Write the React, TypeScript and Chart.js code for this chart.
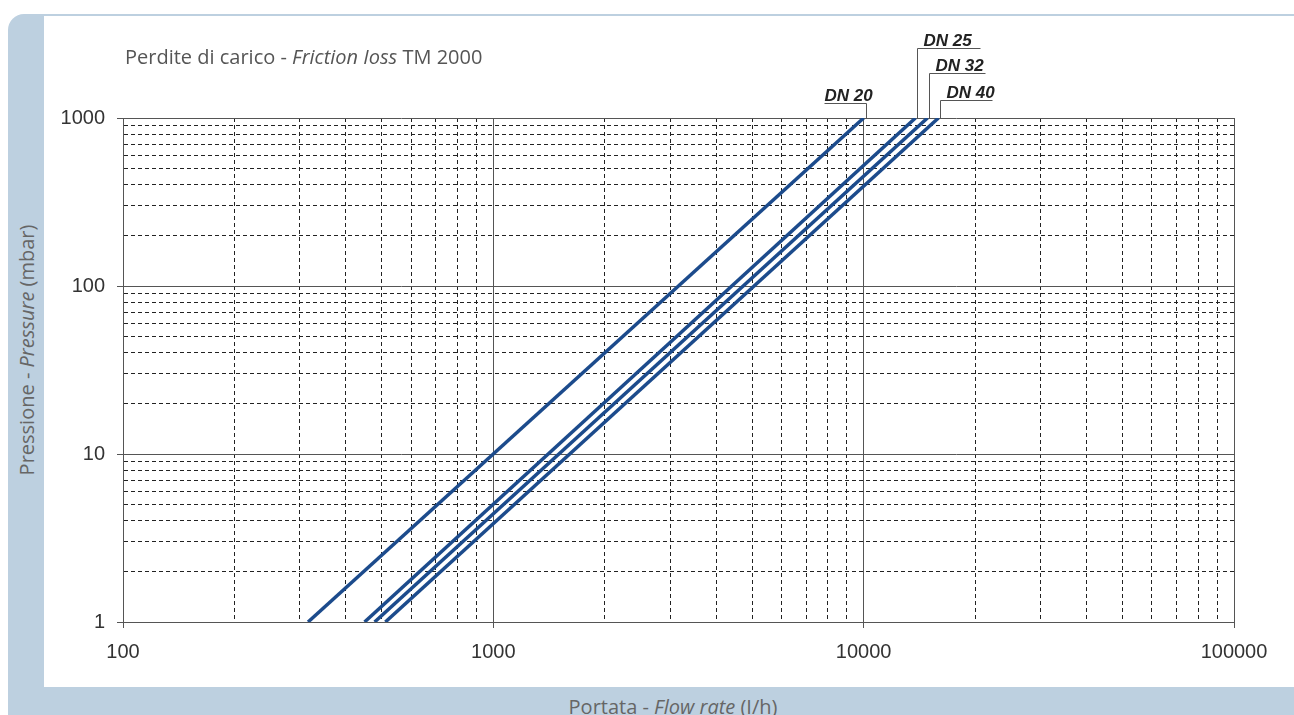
import React, { useEffect, useRef } from 'react';
import { Chart, registerables } from 'chart.js';

Chart.register(...registerables);

// ---- Data ----
const pressureEnds = [1, 1000]; // mbar
const dn20Flow = [316, 10000]; // l/h
const dn25Flow = [449, 13800];
const dn32Flow = [478, 14870];
const dn40Flow = [511, 15920];
const seriesNames = ['DN 20', 'DN 25', 'DN 32', 'DN 40'];

const xTickValues = [
  100, 200, 300, 400, 500, 600, 700, 800, 900,
  1000, 2000, 3000, 4000, 5000, 6000, 7000, 8000, 9000,
  10000, 20000, 30000, 40000, 50000, 60000, 70000, 80000, 90000,
  100000,
];
const xTickLabels = [100, 1000, 10000, 100000];
const yTickValues = [
  1, 2, 3, 4, 5, 6, 7, 8, 9,
  10, 20, 30, 40, 50, 60, 70, 80, 90,
  100, 200, 300, 400, 500, 600, 700, 800, 900,
  1000,
];
const yTickLabels = [1, 10, 100, 1000];

// ---- Styles ----
const LINE_COLOR = '#1c4b8c';
const FRAME_BLUE = '#bdd0e0';
const labelLayout = [
  { rise: 15, side: 'left', len: 42 },
  { rise: 70, side: 'right', len: 63 },
  { rise: 45, side: 'right', len: 56 },
  { rise: 18, side: 'right', len: 52 },
];

const flows = [dn20Flow, dn25Flow, dn32Flow, dn40Flow];

const dnLabelPlugin = {
  id: 'dnLabels',
  afterDatasetsDraw(chart: any) {
    const { ctx, chartArea } = chart;
    ctx.save();
    chart.data.datasets.forEach((ds: any, i: number) => {
      const meta = chart.getDatasetMeta(i);
      const pt = meta.data[meta.data.length - 1];
      if (!pt) return;
      const lay = labelLayout[i];
      const lx = Math.round(pt.x + 2) + 0.5;
      const top = chartArea.top;
      const uy = Math.round(top - lay.rise) + 0.5;
      ctx.strokeStyle = '#555';
      ctx.lineWidth = 1;
      ctx.beginPath();
      ctx.moveTo(lx, top);
      ctx.lineTo(lx, uy);
      if (lay.side === 'left') {
        ctx.lineTo(lx - lay.len, uy);
      } else {
        ctx.lineTo(lx + lay.len, uy);
      }
      ctx.stroke();
      ctx.fillStyle = '#222';
      ctx.font = 'italic bold 17px "Liberation Sans", Arial, sans-serif';
      ctx.textAlign = 'left';
      ctx.textBaseline = 'alphabetic';
      const tx = lay.side === 'left' ? lx - lay.len : lx + 6;
      ctx.fillText(ds.label, tx, uy - 3);
    });
    ctx.restore();
  },
};

function ChartCanvas() {
  const ref = useRef<HTMLCanvasElement | null>(null);
  useEffect(() => {
    if (!ref.current) return;
    const datasets = flows.map((f, i) => ({
      label: seriesNames[i],
      data: f.map((q, k) => ({ x: q, y: pressureEnds[k] })),
      borderColor: LINE_COLOR,
      backgroundColor: LINE_COLOR,
      borderWidth: 3.5,
      pointRadius: 0,
      tension: 0,
    }));
    const tickFont = { family: '"Liberation Sans", Arial, sans-serif', size: 20 };
    const isMajor = (v: number, list: number[]) => list.includes(v);
    const chart = new Chart(ref.current, {
      type: 'line',
      data: { datasets },
      plugins: [dnLabelPlugin],
      options: {
        animation: false,
        responsive: false,
        maintainAspectRatio: false,
        layout: { padding: { left: 9, right: 60, top: 102, bottom: 20 } },
        plugins: {
          legend: { display: false },
          title: { display: false },
          tooltip: { enabled: false },
        },
        scales: {
          x: {
            type: 'logarithmic',
            min: 100,
            max: 100000,
            afterBuildTicks: (scale: any) => {
              scale.ticks = xTickValues.map((v) => ({ value: v }));
            },
            afterFit: (scale: any) => {
              scale.height = 45;
            },
            ticks: {
              autoSkip: false,
              maxRotation: 0,
              padding: 12,
              color: '#333',
              font: tickFont,
              callback: (v: any) => (isMajor(Number(v), xTickLabels) ? String(v) : ''),
            },
            grid: {
              color: (c: any) => (c.tick && isMajor(c.tick.value, xTickLabels) ? '#555' : '#222'),
              lineWidth: 1,
              tickLength: 6,
              tickColor: (c: any) => (c.tick && isMajor(c.tick.value, xTickLabels) ? '#555' : 'rgba(0,0,0,0)'),
            },
            border: {
              display: true,
              color: '#555',
              width: 1,
              dash: (c: any) => (c.tick && !isMajor(c.tick.value, xTickLabels) ? [4, 3] : []),
            },
          },
          y: {
            type: 'logarithmic',
            min: 1,
            max: 1000,
            afterBuildTicks: (scale: any) => {
              scale.ticks = yTickValues.map((v) => ({ value: v }));
            },
            afterFit: (scale: any) => {
              scale.width = 70;
            },
            ticks: {
              autoSkip: false,
              padding: 12,
              color: '#333',
              font: tickFont,
              callback: (v: any) => (isMajor(Number(v), yTickLabels) ? String(v) : ''),
            },
            grid: {
              color: (c: any) => (c.tick && isMajor(c.tick.value, yTickLabels) ? '#555' : '#222'),
              lineWidth: 1,
              tickLength: 6,
              tickColor: (c: any) => (c.tick && isMajor(c.tick.value, yTickLabels) ? '#555' : 'rgba(0,0,0,0)'),
            },
            border: {
              display: true,
              color: '#555',
              width: 1,
              dash: (c: any) => (c.tick && !isMajor(c.tick.value, yTickLabels) ? [4, 3] : []),
            },
          },
        },
      } as any,
    });
    return () => chart.destroy();
  }, []);
  return <canvas ref={ref} width={1250} height={671} style={{ display: 'block', width: 1250, height: 671 }} />;
}

export default function App() {
  const textFont = '"Open Sans", "Noto Sans", sans-serif';
  return (
    <div
      style={{
        position: 'absolute',
        left: 8,
        top: 14,
        width: 1286,
        height: 701,
        background: FRAME_BLUE,
        borderTopLeftRadius: 16,
        overflow: 'hidden',
      }}
    >
      <div style={{ position: 'absolute', left: 36, top: 2, width: 1250, height: 671, background: '#fff' }}>
        <ChartCanvas />
      </div>
      <div
        style={{
          position: 'absolute',
          left: 117,
          top: 29,
          height: 28,
          lineHeight: '28px',
          whiteSpace: 'nowrap',
          fontFamily: textFont,
          fontSize: 20,
          color: '#555',
        }}
      >
        Perdite di carico - <i>Friction Ioss</i> TM 2000
      </div>
      <div
        style={{
          position: 'absolute',
          left: 19 - 200,
          top: 336 - 14,
          width: 400,
          height: 28,
          lineHeight: '28px',
          textAlign: 'center',
          whiteSpace: 'nowrap',
          transform: 'rotate(-90deg)',
          fontFamily: textFont,
          fontSize: 20,
          color: '#666',
        }}
      >
        Pressione - <i>Pressure</i> (mbar)
      </div>
      <div
        style={{
          position: 'absolute',
          left: 365,
          top: 679,
          width: 600,
          height: 28,
          lineHeight: '28px',
          textAlign: 'center',
          whiteSpace: 'nowrap',
          fontFamily: textFont,
          fontSize: 20,
          color: '#666',
        }}
      >
        Portata - <i>Flow rate</i> (I/h)
      </div>
    </div>
  );
}
